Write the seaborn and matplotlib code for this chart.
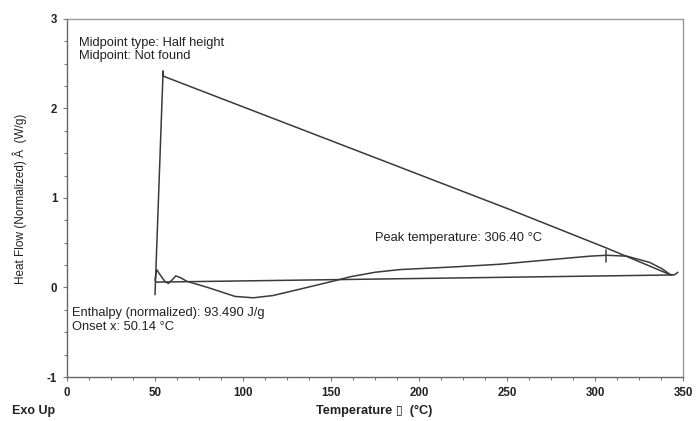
import matplotlib
matplotlib.use("Agg")
import matplotlib.pyplot as plt
import seaborn as sns
import pandas as pd
from matplotlib.ticker import MultipleLocator

# --- data ---
signal_x = [50.0, 54.6, 54.8, 150.0, 251.7, 306.6, 320.0, 343.0]
signal_y = [-0.08, 2.42, 2.36, 1.64, 0.87, 0.44, 0.33, 0.14]

curve_x = [50.0, 50.9, 53.0, 55.5, 57.6, 59.5, 61.8, 64.5, 68.0, 80.0, 95.5, 105.8, 117.0,
           132.0, 151.0, 161.0, 175.0, 189.0, 220.0, 246.0, 274.0, 297.0, 306.6, 318.0,
           331.0, 338.0, 342.6, 345.0, 347.0]
curve_y = [0.08, 0.20, 0.14, 0.07, 0.045, 0.08, 0.13, 0.11, 0.07, 0.00, -0.10, -0.115, -0.09,
           -0.02, 0.07, 0.12, 0.17, 0.20, 0.23, 0.26, 0.31, 0.35, 0.36, 0.35,
           0.28, 0.21, 0.145, 0.14, 0.17]

base_x = [50.4, 344.0]
base_y = [0.06, 0.14]

peak_x = [306.4, 306.4]
peak_y = [0.42, 0.29]

sns.set_theme(style="white")
plt.rcParams['font.family'] = ['Liberation Sans', 'DejaVu Sans']
plt.rcParams['axes.unicode_minus'] = False

fig = plt.figure(figsize=(6.97, 4.21), dpi=100)
ax = fig.add_axes([0.0961, 0.1045, 0.884, 0.8505])

lc = "#3a3a3a"
for xs, ys in [(signal_x, signal_y), (curve_x, curve_y), (base_x, base_y), (peak_x, peak_y)]:
    df = pd.DataFrame({"x": xs, "y": ys})
    sns.lineplot(data=df, x="x", y="y", sort=False, estimator=None, ax=ax,
                 color=lc, linewidth=1.1)

ax.set_xlim(0, 350)
ax.set_ylim(-1, 3)
ax.xaxis.set_major_locator(MultipleLocator(50))
ax.xaxis.set_minor_locator(MultipleLocator(12.5))
ax.yaxis.set_major_locator(MultipleLocator(1))
ax.yaxis.set_minor_locator(MultipleLocator(0.25))
ax.tick_params(which="both", direction="out", color="#777777", length=3, width=0.8,
               bottom=True, left=True, labelsize=8.3, labelcolor="#222222", pad=4)
ax.tick_params(which="minor", length=2)
for lab in ax.get_xticklabels() + ax.get_yticklabels():
    lab.set_fontweight("bold")
for s in ax.spines.values():
    s.set_color("#9a9a9a")
    s.set_linewidth(1.0)
ax.spines["left"].set_color("#666666")
ax.spines["bottom"].set_color("#666666")

ax.set_xlabel("")
ax.set_ylabel("")
fig.text(20 / 697, 1 - 199 / 421, "Heat Flow (Normalized) Â  (W/g)", rotation=90,
         ha="center", va="center", fontsize=8.5, color="#222222")

tk = dict(fontsize=9.3, color="#222222")
ax.text(6.8, 2.66, "Midpoint type: Half height\nMidpoint: Not found", va="center", ha="left",
        linespacing=1.18, **tk)
ax.text(175, 0.55, "Peak temperature: 306.40 °C", va="center", ha="left", **tk)
ax.text(2.8, -0.36, "Enthalpy (normalized): 93.490 J/g\nOnset x: 50.14 °C", va="center",
        ha="left", linespacing=1.18, **tk)

fig.text(12 / 697, 1 - 411 / 421, "Exo Up", ha="left", va="center", fontsize=9,
         color="#222222", fontweight="bold")
fig.text(374 / 697, 1 - 411 / 421, "Temperature \u25af  (°C)", ha="center", va="center",
         fontsize=9.2, color="#222222", fontweight="bold")

fig.savefig("out.png", dpi=100)
